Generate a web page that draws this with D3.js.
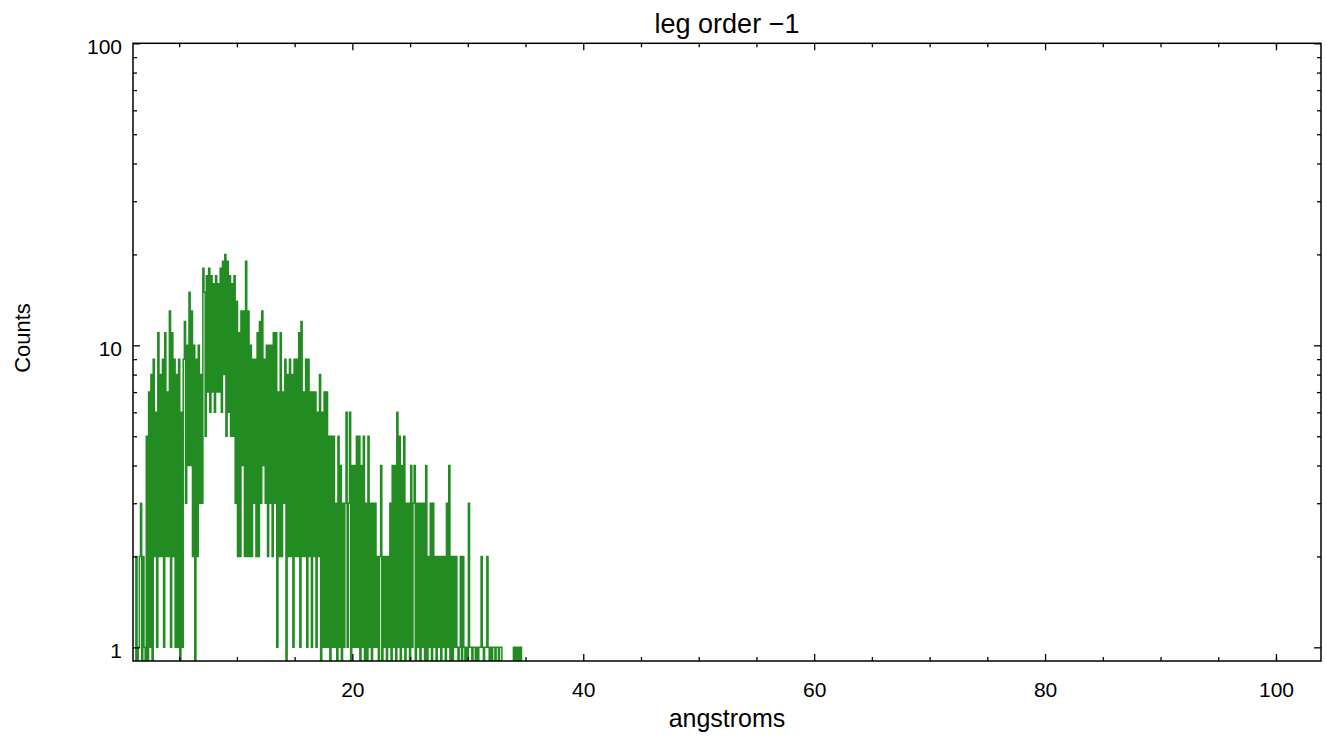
<!DOCTYPE html>
<html>
<head>
<meta charset="utf-8">
<script src="https://cdn.jsdelivr.net/npm/d3@7"></script>
<style>
  html, body { margin: 0; padding: 0; background: #fff; }
  svg { display: block; }
  text { font-family: "Liberation Sans", Arial, Helvetica, sans-serif; fill: #000; }
</style>
</head>
<body>
<svg id="chart" width="1326" height="741"></svg>
<script>
// ---------------- data ----------------
const chartTitle = "leg order \u22121";
const xLabel = "angstroms";
const yLabel = "Counts";
const binStart = 1.25;     // angstroms, left edge of first bin
const binWidth = 0.1;      // angstroms
const counts = [
  2,0,1,2, 3, 0,2,1,0, 5,0, 7,1,8,0, 9,2,6,1, 11,2,8,2, 9,1,11,2,7, 2,13,1,
  11,2,9,1, 8,1,9,0,6,1,9, 12,3,10, 4,15,4,13, 2,10,0,9,2, 10,3,8, 3,18,15, 5,
  17,7,18,6, 17,7,16,6,17,7,16,7, 18,6,19, 8,20,5, 19, 6,17,5,16,5,17, 3,14,
  2,11,2, 13,4,13, 2,19, 2,13,2, 10, 2,9,3,9, 2,11, 2,12,3, 13,4,9,3,
  10,2,10,3,10,2, 11,3,11,1, 7,2, 11,2, 7,3, 9,0,8, 2,9, 2,8,1,9,2, 9,2,
  11,1, 12,2, 7,2, 9,1,9,2, 7,1,7,2, 7,1, 6,2, 8,0, 6,1, 7,1,7,
  1,5,0,5,1, 5, 1,3,0, 5,1,4, 0,3,1,3, 6, 1,3, 6, 0,4,1,4, 1,5,1,5, 0,4,1,
  5,0, 3,0, 5, 1,3,0,3,1,3,1, 2,0,2, 4,0, 2,1,2,0,2,1, 3,0, 4,1,4, 0,6,1,
  5, 0,4,1, 5,0, 3,1,3,0, 4, 1,3, 4, 0,3,1,3,0,3,1,3,0, 4, 0,2,1, 3,0,3,1,
  2,0,2,1,2,0,2,1,2,0, 3,1, 4, 0, 2,0,2,1,2, 1,0,1, 2,0,2, 1,0,1,0, 3,1,
  1,0,1,1,0,1,0,1,1, 2,1, 0,1,1, 2,1, 0,1,0,1,1,0,1,1,0,1,1,
  0,0,0,0,0,0,0,0,0,0, 1,0,1,0,1,0,1, 0,0,0
];
const xMajorTicks = [20, 40, 60, 80, 100];
const xMinorTicks = [5, 10, 15, 25, 30, 35, 45, 50, 55, 65, 70, 75, 85, 90, 95, 100];
const yMajorTicks = [1, 10, 100];
const yMinorTicks = [2, 3, 4, 5, 6, 7, 8, 9, 20, 30, 40, 50, 60, 70, 80, 90];

// ---------------- layout ----------------
const L = 133, R = 1321, T = 43.3, B = 661;
const svg = d3.select("#chart");

const x = d3.scaleLinear().domain([1.0, 103.9]).range([L, R]);
const y = d3.scaleLog().domain([0.901, 100]).range([B, T]);

svg.append("defs").append("clipPath").attr("id", "plotclip")
  .append("rect").attr("x", L).attr("y", T).attr("width", R - L).attr("height", B - T);

// histogram step line
const pts = counts.map((c, i) => [binStart + i * binWidth, c]);
pts.push([binStart + counts.length * binWidth, counts[counts.length - 1]]);
const yv = c => c > 0 ? y(c) : B + 20;
const line = d3.line()
  .x(d => x(d[0]))
  .y(d => yv(d[1]))
  .curve(d3.curveStepAfter);

svg.append("g").attr("clip-path", "url(#plotclip)")
  .append("path")
  .datum([[binStart, 0], ...pts])
  .attr("d", line)
  .attr("fill", "none")
  .attr("stroke", "#228B22")
  .attr("stroke-width", 1.5);

// axes
function styleAxis(g) {
  g.attr("font-size", 21).attr("font-family", "Liberation Sans, Arial, Helvetica, sans-serif");
  g.select(".domain").remove();
  g.selectAll(".tick line").attr("stroke", "#000").attr("stroke-width", 1.3);
  g.selectAll("text").style("font-size", "21px");
}
// bottom
svg.append("g").attr("transform", `translate(0,${B})`)
  .call(d3.axisBottom(x).tickValues(xMajorTicks).tickSize(-7).tickPadding(21).tickFormat(d3.format("d")))
  .call(styleAxis);
svg.append("g").attr("transform", `translate(0,${B})`)
  .call(d3.axisBottom(x).tickValues(xMinorTicks).tickSize(-4).tickFormat(""))
  .call(styleAxis);
// top
svg.append("g").attr("transform", `translate(0,${T})`)
  .call(d3.axisTop(x).tickValues(xMajorTicks).tickSize(-7).tickFormat(""))
  .call(styleAxis);
svg.append("g").attr("transform", `translate(0,${T})`)
  .call(d3.axisTop(x).tickValues(xMinorTicks).tickSize(-4).tickFormat(""))
  .call(styleAxis);
// left
const gl = svg.append("g").attr("transform", `translate(${L},0)`)
  .call(d3.axisLeft(y).tickValues(yMajorTicks).tickSize(-7).tickPadding(11).tickFormat(d3.format("d")))
  .call(styleAxis);
gl.selectAll("text").attr("dy", "0.5em");
svg.append("g").attr("transform", `translate(${L},0)`)
  .call(d3.axisLeft(y).tickValues(yMinorTicks).tickSize(-4).tickFormat(""))
  .call(styleAxis);
// right
svg.append("g").attr("transform", `translate(${R},0)`)
  .call(d3.axisRight(y).tickValues(yMajorTicks).tickSize(-7).tickFormat(""))
  .call(styleAxis);
svg.append("g").attr("transform", `translate(${R},0)`)
  .call(d3.axisRight(y).tickValues(yMinorTicks).tickSize(-4).tickFormat(""))
  .call(styleAxis);

// frame
svg.append("rect").attr("x", L).attr("y", T).attr("width", R - L).attr("height", B - T)
  .attr("fill", "none").attr("stroke", "#000").attr("stroke-width", 1.5);

// titles
svg.append("text").attr("x", (L + R) / 2).attr("y", 33).attr("text-anchor", "middle")
  .attr("font-size", 27).text(chartTitle);
svg.append("text").attr("x", (L + R) / 2).attr("y", 727).attr("text-anchor", "middle")
  .attr("font-size", 25).text(xLabel);
svg.append("text").attr("transform", "translate(30,338) rotate(-90)").attr("text-anchor", "middle")
  .attr("font-size", 22).text(yLabel);
</script>
</body>
</html>
